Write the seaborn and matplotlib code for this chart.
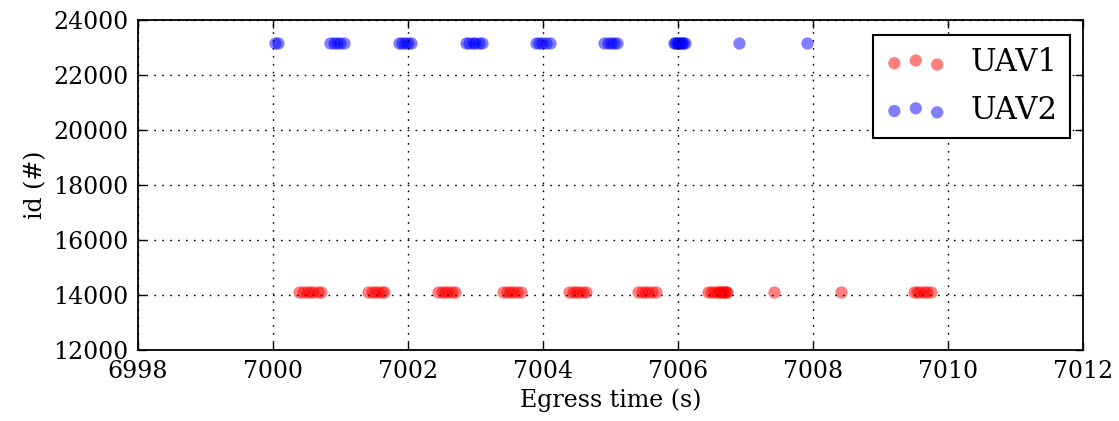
import matplotlib
matplotlib.use("Agg")
import matplotlib.pyplot as plt
import seaborn as sns
import pandas as pd

# Egress times (s) of packets from each UAV
uav1_times = [
    7000.39, 7000.44, 7000.50, 7000.55, 7000.60, 7000.66, 7000.71,
    7001.41, 7001.46, 7001.51, 7001.56, 7001.61, 7001.65,
    7002.45, 7002.50, 7002.55, 7002.60, 7002.65, 7002.70,
    7003.41, 7003.46, 7003.51, 7003.56, 7003.62, 7003.67,
    7004.39, 7004.44, 7004.49, 7004.54, 7004.59, 7004.64,
    7005.41, 7005.46, 7005.51, 7005.56, 7005.62, 7005.67,
    7006.44, 7006.49, 7006.54, 7006.58, 7006.61, 7006.63, 7006.65,
    7006.67, 7006.69, 7006.71, 7006.73,
    7007.42, 7008.42,
    7009.49, 7009.54, 7009.59, 7009.64, 7009.69, 7009.75,
]
uav2_times = [
    7000.03, 7000.07,
    7000.85, 7000.90, 7000.95, 7001.00, 7001.05,
    7001.86, 7001.91, 7001.96, 7002.00, 7002.05,
    7002.86, 7002.91, 7002.96, 7003.00, 7003.05, 7003.10,
    7003.89, 7003.94, 7003.99, 7004.04, 7004.10,
    7004.91, 7004.96, 7005.01, 7005.05, 7005.10,
    7005.94, 7005.96, 7005.98, 7006.00, 7006.02, 7006.04, 7006.06,
    7006.08, 7006.11,
    7006.90, 7007.91,
]
uav1_id = 14100
uav2_id = 23170

series_names = ["UAV1", "UAV2"]
series_colors = ["#ff0000", "#0000ff"]
x_ticks = [6998, 7000, 7002, 7004, 7006, 7008, 7010, 7012]
y_ticks = [12000, 14000, 16000, 18000, 20000, 22000, 24000]

df1 = pd.DataFrame({"t": uav1_times, "id": [uav1_id] * len(uav1_times)})
df2 = pd.DataFrame({"t": uav2_times, "id": [uav2_id] * len(uav2_times)})

sns.set_style("ticks")
plt.rcParams.update({
    "font.family": ["DejaVu Serif"],
    "text.color": "black",
    "axes.labelcolor": "black",
    "xtick.direction": "in",
    "ytick.direction": "in",
    "xtick.top": True,
    "ytick.right": True,
    "xtick.major.size": 6,
    "ytick.major.size": 6,
    "xtick.major.width": 1.0,
    "ytick.major.width": 1.0,
    "xtick.major.pad": 7,
    "ytick.major.pad": 7,
    "axes.linewidth": 1.3,
    "axes.edgecolor": "black",
    "xtick.color": "black",
    "ytick.color": "black",
    "xtick.labelcolor": "black",
    "ytick.labelcolor": "black",
})

fig = plt.figure(figsize=(11.19, 4.21), dpi=100)
ax = fig.add_axes([0.1233, 0.1686, 0.9678 - 0.1233, 0.9525 - 0.1686])

for df, name, color in zip([df1, df2], series_names, series_colors):
    sns.scatterplot(data=df, x="t", y="id", ax=ax, color=color, alpha=0.5,
                    s=78, linewidth=0, label=name)

ax.set_xlim(6998, 7012)
ax.set_ylim(12000, 24000)
ax.set_xticks(x_ticks)
ax.set_yticks(y_ticks)
ax.tick_params(labelsize=17)
ax.grid(True, color="black", linestyle=(0, (1.2, 4.5)), linewidth=1.0)
ax.set_axisbelow(False)
ax.set_xlabel("Egress time (s)", fontsize=17)
ax.set_ylabel("id (#)", fontsize=17)

leg = ax.legend(loc="upper right", bbox_to_anchor=(1070 / 1119, (421 - 35) / 421),
                bbox_transform=fig.transFigure, borderaxespad=0,
                scatterpoints=3, scatteryoffsets=[0.375, 0.5, 0.3125],
                fontsize=22, frameon=True, fancybox=False, framealpha=1,
                handletextpad=0.8, borderpad=0.4, labelspacing=0.55)
leg.get_frame().set_edgecolor("black")
leg.get_frame().set_linewidth(1.5)

fig.savefig("out.png", dpi=100)
